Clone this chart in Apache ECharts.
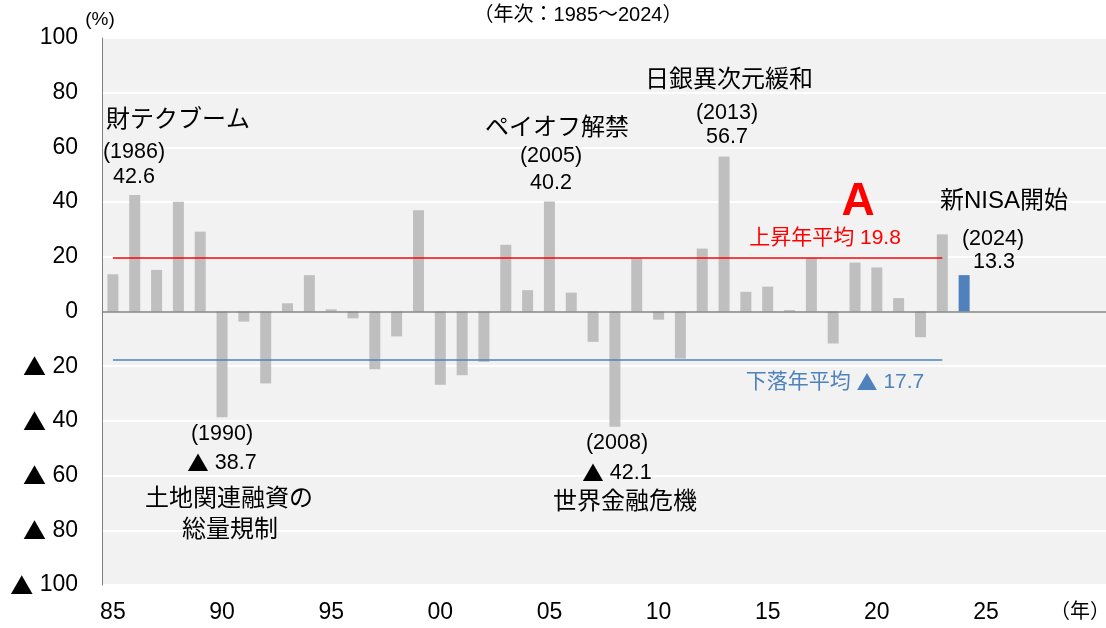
<!DOCTYPE html>
<html>
<head>
<meta charset="utf-8">
<script src="https://cdn.jsdelivr.net/npm/echarts@6/dist/echarts.min.js"></script>
<style>
html, body { margin: 0; padding: 0; background: #fff; }
#chart { width: 1106px; height: 628px; }
</style>
</head>
<body>
<div id="chart"></div>
<script>
// 年次 (1985-2030, axis runs a few years past the data)
const years = [];
for (let y = 1985; y <= 2030; y++) years.push(String(y));
const lastTickYear = 2025;

// 年間騰落率 (%) 1985-2024
const changes = [
    13.6, 42.6, 15.2, 40.1, 29.2, -38.7, -3.7, -26.3, 3.0, 13.3,
    0.8, -2.5, -21.1, -9.1, 37.0, -26.8, -23.3, -18.4, 24.4, 7.8,
    40.2, 6.9, -11.1, -42.1, 19.4, -3.0, -17.2, 23.0, 56.7, 7.2,
    9.1, 0.5, 19.5, -11.7, 17.9, 16.1, 4.9, -9.4, 28.2, 13.3
];
const latestYear = '2024';
const avgUp = 19.8;
const avgDown = -17.7;
const yTicks = [-100, -80, -60, -40, -20, 0, 20, 40, 60, 80, 100];

const FONT = '"Liberation Sans", Arial, "Noto Sans CJK JP", sans-serif';
const TRI_FONT = '"Noto Sans CJK JP", "DejaVu Sans", sans-serif';

const barData = changes.map((v, i) => {
    if (years[i] === latestYear) {
        return { value: v, itemStyle: { color: '#4f81bd' } };
    }
    return v;
});

function txt(x, y, text, opt) {
    opt = opt || {};
    const size = opt.size || 21.5;
    const color = opt.color || '#000';
    return {
        type: 'text',
        x: x,
        y: y,
        z: 100,
        style: {
            text: text.replace('▲', '{t|▲}'),
            fill: color,
            font: (opt.weight || 'normal') + ' ' + size + 'px ' + FONT,
            textAlign: opt.align || 'center',
            textVerticalAlign: 'middle',
            rich: {
                t: { fontFamily: TRI_FONT, fontSize: size, fill: color, color: color }
            }
        }
    };
}

const chartDom = document.getElementById('chart');
const myChart = echarts.init(chartDom);

const option = {
    animation: false,
    textStyle: { fontFamily: FONT },
    grid: {
        left: 102,
        top: 38,
        right: -5,
        bottom: 43,
        show: true,
        backgroundColor: '#f2f2f2',
        borderWidth: 0
    },
    xAxis: {
        type: 'category',
        data: years,
        axisLine: { show: false, onZero: false },
        axisTick: { show: false },
        axisLabel: {
            interval: function (idx, v) { return idx % 5 === 0 && +v <= lastTickYear; },
            formatter: function (v) { return v.slice(2); },
            color: '#000',
            fontSize: 23,
            margin: 16
        },
        splitLine: { show: false }
    },
    yAxis: {
        type: 'value',
        min: yTicks[0],
        max: yTicks[yTicks.length - 1],
        interval: 20,
        axisLine: { show: true, lineStyle: { color: '#808080', width: 1 } },
        axisTick: { show: false },
        axisLabel: {
            color: '#000',
            fontSize: 23,
            margin: 24,
            formatter: function (v) { return v < 0 ? '{t|▲} ' + (-v) : String(v); },
            rich: {
                t: { fontFamily: TRI_FONT, fontSize: 23, color: '#000' }
            }
        },
        splitLine: { show: true, lineStyle: { color: '#ffffff', width: 2 } }
    },
    series: [{
        type: 'bar',
        data: barData,
        barWidth: 11,
        itemStyle: { color: '#bfbfbf' },
        markLine: {
            silent: true,
            symbol: 'none',
            label: { show: false },
            data: [
                [{ coord: [years[0], avgUp] }, { coord: ['2023', avgUp] }],
                [{ coord: [years[0], avgDown], lineStyle: { color: '#4f81bd' } },
                 { coord: ['2023', avgDown] }],
                { yAxis: 0, lineStyle: { color: '#808080', width: 1.5 } }
            ],
            lineStyle: { color: '#ff0000', width: 1.5, type: 'solid' }
        }
    }],
    graphic: [
        txt(100, 20, '(%)', { size: 19 }),
        txt(578, 15, '（年次：1985～2024）', { size: 20 }),
        txt(1080, 612, '（年）', { size: 20 }),

        txt(106, 120, '財テクブーム', { size: 24, align: 'left' }),
        txt(134, 152, '(1986)'),
        txt(134, 177, '42.6'),

        txt(222, 434, '(1990)'),
        txt(222, 463, '▲ 38.7'),
        txt(229, 499, '土地関連融資の', { size: 24 }),
        txt(230, 530, '総量規制', { size: 24 }),

        txt(557, 128, 'ペイオフ解禁', { size: 24 }),
        txt(551, 156, '(2005)'),
        txt(551, 183, '40.2'),

        txt(617, 443, '(2008)'),
        txt(617, 473, '▲ 42.1'),
        txt(625, 502, '世界金融危機', { size: 24 }),

        txt(729, 80, '日銀異次元緩和', { size: 24 }),
        txt(727, 113, '(2013)'),
        txt(727, 137, '56.7'),

        txt(858, 202, 'A', { size: 46, weight: 'bold', color: '#ff0000' }),
        txt(825, 238, '上昇年平均 19.8', { size: 21, color: '#ff0000' }),
        txt(835, 382, '下落年平均 ▲ 17.7', { size: 21, color: '#4f81bd' }),

        txt(1004, 201, '新NISA開始', { size: 24 }),
        txt(993, 239, '(2024)'),
        txt(994, 262, '13.3')
    ]
};

myChart.setOption(option);
</script>
</body>
</html>
